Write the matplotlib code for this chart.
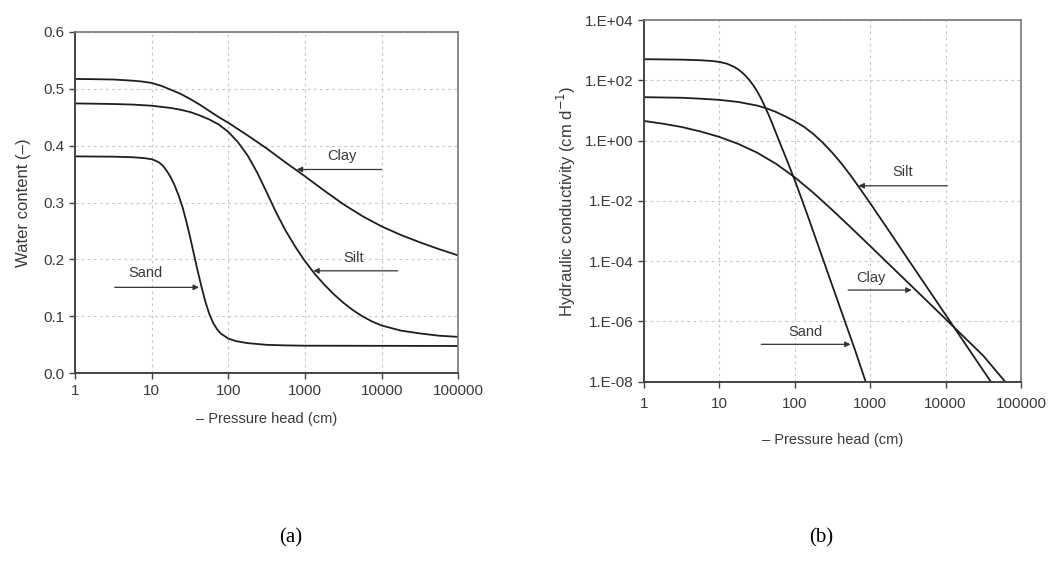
import matplotlib
matplotlib.use("Agg")
import matplotlib.pyplot as plt
from matplotlib.ticker import FixedLocator, FixedFormatter, NullLocator

plt.rcParams['font.family'] = ['Liberation Sans', 'DejaVu Sans']

# ---------------- data: (a) water retention ----------------
sand_h = [1, 3.162, 5.623, 7.943, 10, 11.22, 12.59, 14.13, 15.85, 17.78, 19.95, 22.39, 25.12, 28.18,
          31.62, 35.48, 39.81, 44.67, 50.12, 56.23, 63.10, 70.79, 79.43, 100, 125.9, 177.8, 316.2,
          562.3, 1000, 100000]
sand_theta = [0.381, 0.3805, 0.3795, 0.378, 0.376, 0.3735, 0.370, 0.364, 0.355, 0.344, 0.330, 0.313,
              0.293, 0.268, 0.240, 0.210, 0.180, 0.152, 0.126, 0.105, 0.089, 0.078, 0.070, 0.061,
              0.0565, 0.053, 0.050, 0.049, 0.0485, 0.048]

silt_h = [1, 3.162, 5.623, 10, 17.78, 23.71, 31.62, 42.17, 56.23, 74.99, 100, 133.4, 177.8, 237.1,
          316.2, 421.7, 562.3, 749.9, 1000, 1334, 1778, 2371, 3162, 4217, 5623, 7499, 10000, 17780,
          31620, 56230, 100000]
silt_theta = [0.474, 0.473, 0.472, 0.470, 0.466, 0.463, 0.459, 0.453, 0.446, 0.437, 0.424, 0.406,
              0.383, 0.353, 0.318, 0.282, 0.250, 0.222, 0.197, 0.175, 0.156, 0.139, 0.124, 0.111,
              0.100, 0.091, 0.084, 0.075, 0.070, 0.066, 0.064]

clay_h = [1, 1.778, 3.162, 5.623, 7.499, 10, 13.34, 17.78, 23.71, 31.62, 42.17, 56.23, 74.99, 100,
          177.8, 316.2, 562.3, 1000, 1778, 3162, 5623, 10000, 17780, 31620, 56230, 100000]
clay_theta = [0.517, 0.5166, 0.516, 0.514, 0.5125, 0.510, 0.505, 0.498, 0.491, 0.482, 0.472, 0.461,
              0.450, 0.440, 0.418, 0.395, 0.370, 0.346, 0.321, 0.297, 0.276, 0.258, 0.243, 0.230,
              0.218, 0.207]

# ---------------- data: (b) hydraulic conductivity ----------------
sandK_h = [1, 3.162, 5.623, 7.943, 10, 12.59, 15.85, 17.78, 19.95, 22.39, 25.12, 28.18, 31.62, 35.48,
           39.81, 44.67, 50.12, 63.10, 79.43, 100, 125.9, 158.5, 251.2, 398.1, 631.0, 871]
sand_K = [501, 484, 462, 437, 407, 355, 275, 229, 182, 138, 100, 67.6, 43.7, 25.7, 14.1, 7.41, 3.72,
          0.871, 0.209, 0.0479, 0.0100, 2.0e-3, 7.59e-5, 2.88e-6, 1.10e-7, 1.0e-8]

siltK_h = [1, 3.162, 5.623, 10, 17.78, 31.62, 42.17, 56.23, 74.99, 100, 133.4, 177.8, 237.1, 316.2,
           421.7, 562.3, 749.9, 1000, 1778, 3162, 10000, 31620, 39810]
silt_K = [27.5, 26.3, 24.5, 22.4, 19.1, 14.5, 11.7, 8.91, 6.31, 4.37, 2.82, 1.62, 0.832, 0.389,
          0.166, 0.0646, 0.0234, 8.32e-3, 1.0e-3, 1.17e-4, 1.66e-6, 2.34e-8, 1.0e-8]

clayK_h = [1, 1.778, 3.162, 5.623, 10, 17.78, 31.62, 56.23, 100, 177.8, 316.2, 562.3, 1000, 3162,
           10000, 31620, 61660]
clay_K = [4.47, 3.63, 2.82, 2.0, 1.32, 0.776, 0.398, 0.170, 0.0603, 0.0182, 4.90e-3, 1.26e-3,
          3.16e-4, 1.95e-5, 1.20e-6, 7.24e-8, 1.0e-8]

x_ticks = [1, 10, 100, 1000, 10000, 100000]
x_labels = ['1', '10', '100', '1000', '10000', '100000']
theta_ticks = [0.0, 0.1, 0.2, 0.3, 0.4, 0.5, 0.6]
theta_labels = ['0.0', '0.1', '0.2', '0.3', '0.4', '0.5', '0.6']
K_ticks = [1e-8, 1e-6, 1e-4, 1e-2, 1e0, 1e2, 1e4]
K_labels = ['1.E-08', '1.E-06', '1.E-04', '1.E-02', '1.E+00', '1.E+02', '1.E+04']

LINE = '#1e1e1e'
TXT = '#3a3a3a'
W, H = 1057, 564
fig = plt.figure(figsize=(W / 100, H / 100), dpi=100)


def frac(x0, y0, x1, y1):
    return [x0 / W, 1 - y1 / H, (x1 - x0) / W, (y1 - y0) / H]


def style(ax):
    ax.set_xscale('log')
    ax.set_xlim(1, 100000)
    ax.xaxis.set_major_locator(FixedLocator(x_ticks))
    ax.xaxis.set_major_formatter(FixedFormatter(x_labels))
    ax.xaxis.set_minor_locator(NullLocator())
    ax.grid(True, which='major', color='#c8c8c8', linestyle=(0, (2.5, 3)), linewidth=0.8)
    ax.set_axisbelow(True)
    for s in ['left', 'bottom']:
        ax.spines[s].set_color('#444444')
        ax.spines[s].set_linewidth(1.4)
    for s in ['top', 'right']:
        ax.spines[s].set_color('#777777')
        ax.spines[s].set_linewidth(1.2)
    ax.tick_params(which='major', direction='out', length=4, width=1.0, color='#444444',
                   labelsize=11, labelcolor=TXT)


def arrow(ax, start, tip):
    ax.annotate('', xy=tip, xytext=start,
                arrowprops=dict(arrowstyle='-|>', color='#333333', lw=0.9,
                                mutation_scale=8, shrinkA=0, shrinkB=0))


# ---------- (a) ----------
ax1 = fig.add_axes(frac(75, 31.7, 458.3, 373.3))
style(ax1)
ax1.set_ylim(0, 0.6)
ax1.yaxis.set_major_locator(FixedLocator(theta_ticks))
ax1.yaxis.set_major_formatter(FixedFormatter(theta_labels))
ax1.plot(clay_h, clay_theta, color=LINE, lw=1.3)
ax1.plot(silt_h, silt_theta, color=LINE, lw=1.3)
ax1.plot(sand_h, sand_theta, color=LINE, lw=1.3)
ax1.set_ylabel('Water content (–)', fontsize=12, color=TXT, labelpad=9)
ax1.set_xlabel('– Pressure head (cm)', fontsize=10.5, color=TXT, labelpad=10)

arrow(ax1, (10000, 0.358), (780, 0.358))
ax1.text(3000, 0.382, 'Clay', fontsize=10.5, color=TXT, ha='center', va='center')
arrow(ax1, (16200, 0.180), (1285, 0.180))
ax1.text(4360, 0.203, 'Silt', fontsize=10.5, color=TXT, ha='center', va='center')
arrow(ax1, (3.3, 0.151), (41.4, 0.151))
ax1.text(8.4, 0.176, 'Sand', fontsize=10.5, color=TXT, ha='center', va='center')

# ---------- (b) ----------
ax2 = fig.add_axes(frac(644, 20, 1021, 381.7))
style(ax2)
ax2.set_yscale('log')
ax2.set_ylim(1e-8, 1e4)
ax2.yaxis.set_major_locator(FixedLocator(K_ticks))
ax2.yaxis.set_major_formatter(FixedFormatter(K_labels))
ax2.yaxis.set_minor_locator(NullLocator())
ax2.tick_params(axis='x', pad=7)
ax2.plot(sandK_h, sand_K, color=LINE, lw=1.3)
ax2.plot(siltK_h, silt_K, color=LINE, lw=1.3)
ax2.plot(clayK_h, clay_K, color=LINE, lw=1.3)
ax2.set_ylabel('Hydraulic conductivity (cm d$^{-1}$)', fontsize=12, color=TXT, labelpad=5)
ax2.set_xlabel('– Pressure head (cm)', fontsize=10.5, color=TXT, labelpad=16)

arrow(ax2, (10500, 10 ** -1.50), (700, 10 ** -1.50))
ax2.text(2700, 10 ** -1.03, 'Silt', fontsize=10.5, color=TXT, ha='center', va='center')
arrow(ax2, (510, 10 ** -4.96), (3550, 10 ** -4.96))
ax2.text(1010, 10 ** -4.55, 'Clay', fontsize=10.5, color=TXT, ha='center', va='center')
arrow(ax2, (36, 10 ** -6.76), (550, 10 ** -6.76))
ax2.text(139, 10 ** -6.36, 'Sand', fontsize=10.5, color=TXT, ha='center', va='center')

fig.text(291 / W, 1 - 538 / H, '(a)', fontsize=15, family='Liberation Serif', ha='center', va='center')
fig.text(821 / W, 1 - 538 / H, '(b)', fontsize=15, family='Liberation Serif', ha='center', va='center')

fig.savefig('out.png', dpi=100, facecolor='white')
